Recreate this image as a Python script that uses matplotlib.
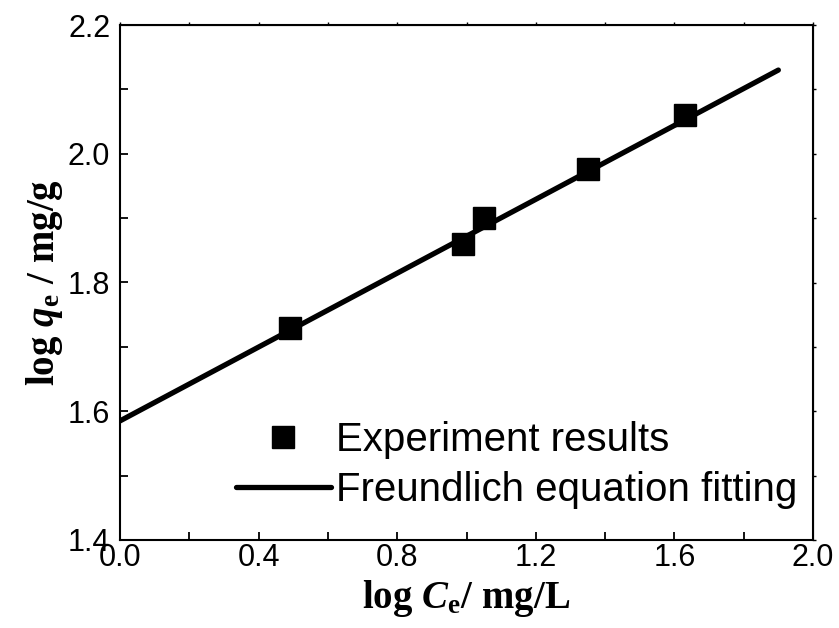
import numpy as np
import matplotlib
matplotlib.use('Agg')
import matplotlib.pyplot as plt
from matplotlib.ticker import MultipleLocator, FormatStrFormatter

plt.rcParams['font.family'] = ['Liberation Sans', 'DejaVu Sans']
plt.rcParams['mathtext.fontset'] = 'custom'
plt.rcParams['mathtext.rm'] = 'Liberation Serif:bold'
plt.rcParams['mathtext.it'] = 'Liberation Serif:italic:bold'
plt.rcParams['mathtext.bf'] = 'Liberation Serif:bold'

# experiment points
log_ce = [0.49, 0.99, 1.05, 1.35, 1.63]
log_qe = [1.730, 1.860, 1.900, 1.977, 2.060]

# fitted line endpoints
fit_x = [0.0, 1.9]
fit_y = [1.585, 2.130]

W, H = 839, 628
fig = plt.figure(figsize=(W / 100, H / 100), dpi=100)
# axes box in pixels: left 120, right 813, top 25, bottom 540
ax = fig.add_axes([120 / W, 1 - 540 / H, 693 / W, 515 / H])

ax.plot(log_ce, log_qe, 's', color='black', markersize=16.5, label='Experiment results', zorder=3)
ax.plot(fit_x, fit_y, '-', color='black', linewidth=3.8, label='Freundlich equation fitting',
        zorder=2, solid_capstyle='round')

ax.set_xlim(0, 2.0)
ax.set_ylim(1.4, 2.2)
ax.xaxis.set_major_locator(MultipleLocator(0.4))
ax.xaxis.set_minor_locator(MultipleLocator(0.2))
ax.yaxis.set_major_locator(MultipleLocator(0.2))
ax.yaxis.set_minor_locator(MultipleLocator(0.1))
ax.xaxis.set_major_formatter(FormatStrFormatter('%.1f'))
ax.yaxis.set_major_formatter(FormatStrFormatter('%.1f'))

ax.tick_params(which='both', direction='in', labelsize=22, width=1.3, length=6,
               top=False, right=False)
ax.tick_params(axis='x', pad=2)
ax.tick_params(axis='y', pad=7)
for s in ax.spines.values():
    s.set_linewidth(1.5)

# tiny outer ticks on top and right
sec_x = ax.secondary_xaxis('top')
sec_x.xaxis.set_major_locator(MultipleLocator(0.2))
sec_x.tick_params(direction='out', length=2.5, width=1.0, labeltop=False)
sec_y = ax.secondary_yaxis('right')
sec_y.yaxis.set_major_locator(MultipleLocator(0.1))
sec_y.tick_params(direction='out', length=2.5, width=1.0, labelright=False)

ax.set_xlabel(r'$\mathrm{log}\ \mathit{C}_{\mathrm{e}}\mathrm{/\ mg/L}$', fontsize=28, labelpad=4)
ax.set_ylabel(r'$\mathrm{log}\ \mathit{q}_{\mathrm{e}}\mathrm{\ /\ mg/g}$', fontsize=28, labelpad=2)

ax.legend(loc='lower right', bbox_to_anchor=(0.977, 0.06), frameon=False, fontsize=29,
          handlelength=2.36, handletextpad=0.12, labelspacing=0.3, borderpad=0,
          borderaxespad=0, numpoints=1)

fig.savefig('out.png', dpi=100)
